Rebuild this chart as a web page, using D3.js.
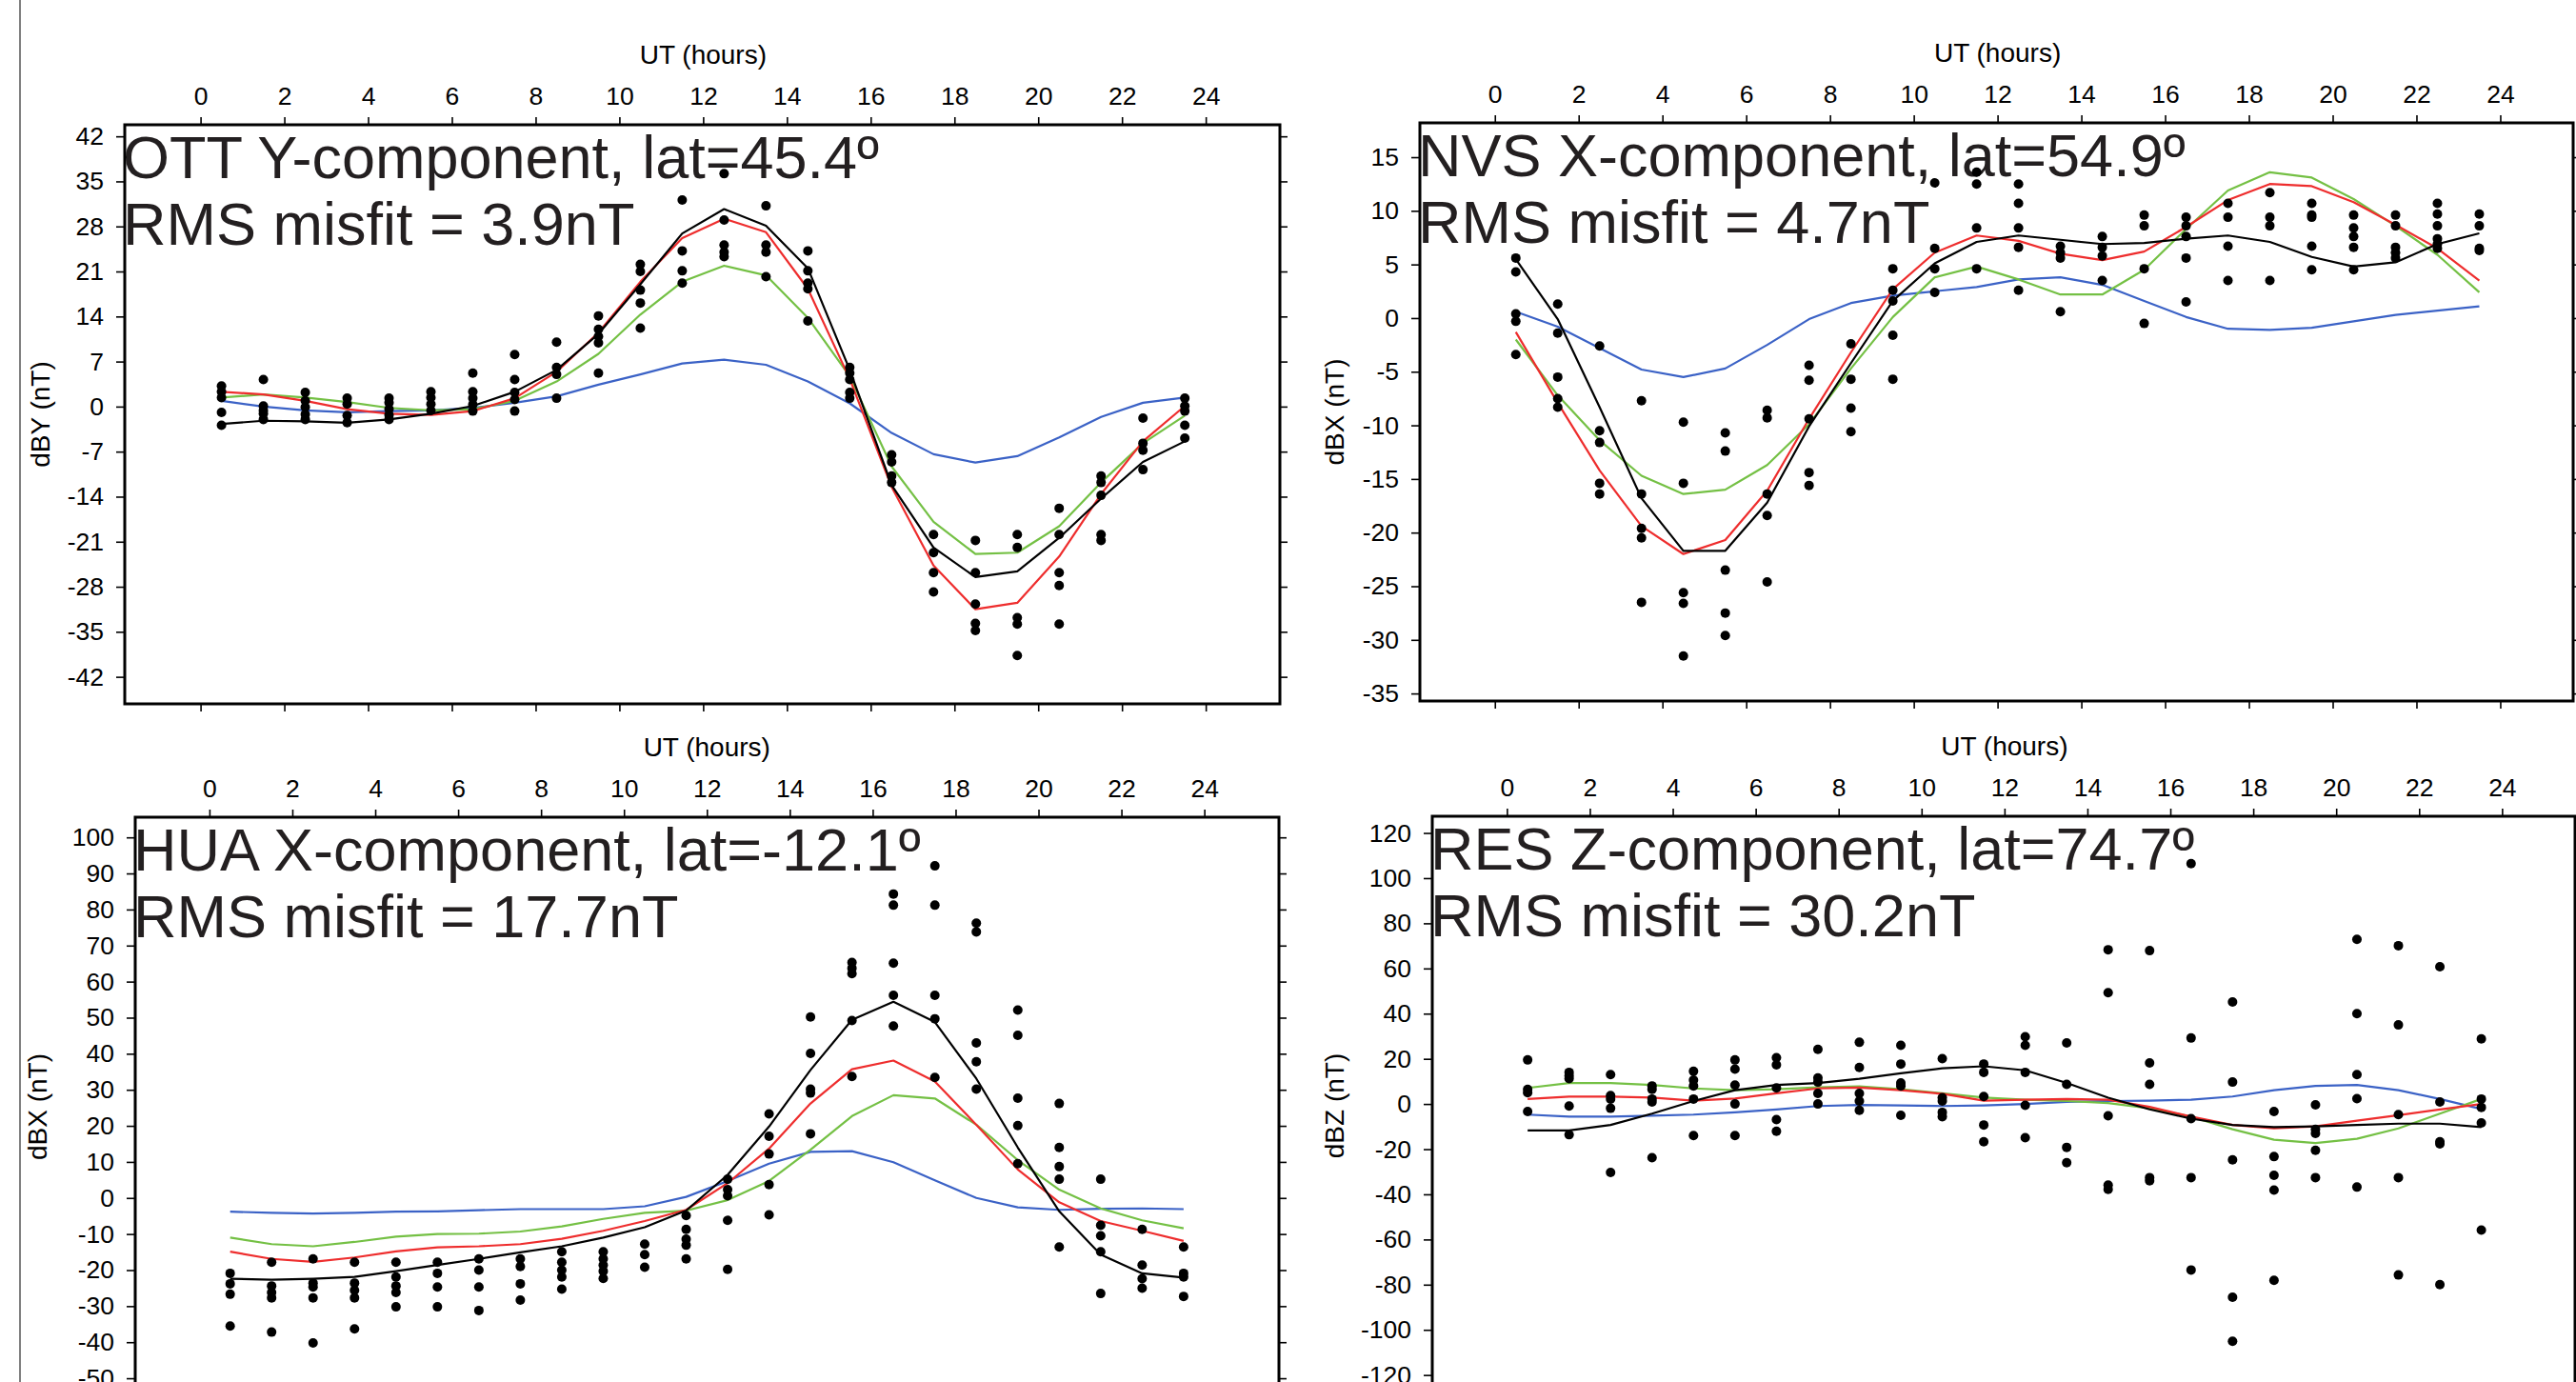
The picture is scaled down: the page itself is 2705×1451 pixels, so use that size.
<!DOCTYPE html>
<html>
<head>
<meta charset="utf-8">
<script src="https://cdnjs.cloudflare.com/ajax/libs/d3/7.8.5/d3.min.js"></script>
<style>
  body { margin: 0; background: #fff; }
  text { font-family: "Liberation Sans", Arial, sans-serif; }
</style>
</head>
<body>
<script>
// hourly bins (UT) and shared tick labels
var hours = [0.5, 1.5, 2.5, 3.5, 4.5, 5.5, 6.5, 7.5, 8.5, 9.5, 10.5, 11.5,
             12.5, 13.5, 14.5, 15.5, 16.5, 17.5, 18.5, 19.5, 20.5, 21.5, 22.5, 23.5];
var xTicks = [0, 2, 4, 6, 8, 10, 12, 14, 16, 18, 20, 22, 24];

// ---- OTT Y-component
var ottYTicks = [-42, -35, -28, -21, -14, -7, 0, 7, 14, 21, 28, 35, 42];
var ottDots = [
  [3.2, 2.3, 1.4, -0.9, -2.9], [4.2, 0.1, -0.6, -1.1, -2.0], [2.2, 0.9, -0.1, -1.2, -2.0],
  [1.3, 0.4, -1.4, -2.5], [1.3, 0.6, -0.4, -1.3, -2.0], [2.3, 1.4, 0.4, -0.6],
  [5.2, 2.3, 1.3, 0.3, -0.7], [8.1, 4.2, 2.2, 1.1, -0.7], [10.0, 6.1, 5.0, 1.3],
  [14.1, 12.0, 10.9, 9.9, 5.2], [22.1, 21.0, 18.1, 16.1, 12.2], [32.1, 24.2, 21.1, 19.2],
  [36.2, 29.0, 25.1, 24.0, 23.3], [31.2, 25.1, 24.0, 20.2], [24.2, 21.1, 19.2, 18.3, 13.3],
  [6.1, 5.2, 4.2, 2.2, 1.3], [-7.5, -8.6, -10.8, -11.8], [-19.9, -22.7, -25.8, -28.8],
  [-20.8, -25.8, -30.7, -33.7, -34.8], [-19.9, -21.9, -32.8, -33.8, -38.7],
  [-15.8, -19.9, -25.8, -27.8, -33.8], [-10.8, -11.8, -13.8, -19.9, -20.8],
  [-1.8, -5.7, -6.8, -9.8], [1.3, 0.1, -0.7, -2.9, -4.9]
];
var ottBlack = [-2.7, -2.2, -2.3, -2.5, -2.0, -1.1, 0.1, 2.3, 5.7, 11.3, 19.0, 26.9,
                30.7, 28.1, 21.5, 5.7, -12.2, -21.9, -26.5, -25.6, -20.4, -14.3, -8.6, -5.4];
var ottRed = [2.3, 1.9, 0.9, -0.4, -1.1, -1.3, -0.7, 1.3, 5.4, 11.5, 19.4, 26.2,
              29.2, 27.1, 18.3, 4.3, -12.5, -24.7, -31.5, -30.5, -23.3, -13.6, -5.4, 0.1];
var ottGreen = [1.4, 1.9, 1.4, 0.7, -0.2, -0.6, -0.4, 0.9, 3.9, 8.2, 14.3, 19.4,
                21.9, 20.4, 13.8, 4.7, -9.3, -17.9, -22.9, -22.7, -18.6, -11.8, -5.7, -1.4];
var ottBlue = [0.9, 0, -0.6, -0.9, -0.7, -0.6, -0.2, 0.6, 1.6, 3.4, 5.0, 6.7,
               7.3, 6.5, 3.9, 0.5, -4.1, -7.4, -8.7, -7.7, -4.8, -1.6, 0.6, 1.4];

// ---- NVS X-component
var nvsYTicks = [-35, -30, -25, -20, -15, -10, -5, 0, 5, 10, 15];
var nvsDots = [
  [5.6, 4.3, 0.4, -0.3, -3.4], [1.3, -1.4, -5.5, -7.5, -8.3], [-2.6, -10.5, -11.6, -15.4, -16.4],
  [-7.7, -16.4, -19.6, -20.5, -26.5], [-9.7, -15.4, -25.6, -26.6, -31.5],
  [-10.7, -12.4, -23.5, -27.5, -29.6], [-8.6, -9.3, -16.4, -18.4, -24.6],
  [-4.4, -5.8, -9.4, -14.4, -15.6], [-2.4, -5.7, -8.4, -10.6], [4.6, 2.6, 1.6, -1.6, -5.7],
  [12.6, 6.5, 4.6, 2.4], [13.6, 12.5, 8.4, 4.6], [12.5, 10.7, 8.4, 6.6, 2.6],
  [6.7, 6.1, 5.6, 0.6], [7.6, 6.6, 5.8, 3.5], [9.6, 8.6, 4.6, -0.5],
  [9.4, 8.6, 7.6, 5.6, 1.5], [10.7, 9.4, 6.7, 3.5], [11.7, 9.4, 8.6, 3.5],
  [10.7, 9.6, 9.4, 6.7, 4.5], [9.6, 8.4, 7.6, 6.6, 4.5], [9.6, 8.6, 6.6, 6.1, 5.6],
  [10.7, 9.7, 8.6, 7.4, 6.9, 6.5], [9.7, 8.6, 6.5, 6.3]
];
var nvsBlack = [5.5, -0.1, -8.3, -16.8, -21.7, -21.7, -17.2, -10.1, -4.2, 1.6, 5.1, 7.1,
                7.7, 7.3, 6.9, 7.0, 7.4, 7.7, 7.1, 5.7, 4.8, 5.2, 6.9, 7.9];
var nvsRed = [-1.3, -7.9, -14.2, -19.4, -22.0, -20.7, -16.1, -9.4, -3.2, 2.7, 6.1, 7.7,
              7.2, 6.0, 5.4, 6.2, 8.5, 11.0, 12.5, 12.3, 10.8, 8.7, 6.5, 3.5];
var nvsGreen = [-2.0, -7.2, -11.4, -14.7, -16.4, -16.0, -13.7, -9.9, -4.7, 0.1, 3.8, 4.8,
                3.6, 2.2, 2.2, 4.5, 8.3, 11.9, 13.6, 13.1, 11.1, 8.6, 5.9, 2.4];
var nvsBlue = [0.6, -0.8, -2.8, -4.8, -5.5, -4.7, -2.5, -0.1, 1.4, 2.1, 2.5, 2.9,
               3.6, 3.8, 3.1, 1.6, 0.1, -1.0, -1.1, -0.9, -0.3, 0.3, 0.7, 1.1];

// ---- HUA X-component
var huaYTicks = [-50, -40, -30, -20, -10, 0, 10, 20, 30, 40, 50, 60, 70, 80, 90, 100];
var huaDots = [
  [-20.9, -23.8, -26.7, -35.5], [-17.8, -24.4, -26.2, -27.7, -37.2],
  [-16.9, -23.6, -24.7, -27.7, -40.2], [-17.8, -23.6, -25.6, -27.7, -36.3],
  [-17.8, -21.9, -24.4, -26.2, -30.2], [-17.8, -20.9, -24.7, -30.2],
  [-16.9, -20.0, -24.7, -31.2], [-16.9, -19.0, -23.8, -28.3],
  [-14.9, -17.8, -20.0, -21.9, -25.3], [-14.9, -16.9, -18.6, -20.3, -22.3],
  [-12.8, -15.7, -19.2], [-4.9, -8.7, -11.4, -13.1, -16.9], [5.2, 2.3, 0.6, -6.2, -19.8],
  [23.3, 17.1, 12.2, 3.7, -4.7], [50.2, 40.1, 30.2, 29.1, 17.8], [65.3, 63.7, 62.2, 49.2, 33.7],
  [84.3, 81.2, 65.1, 56.2, 47.7], [92.1, 81.2, 56.2, 49.7, 33.4], [76.2, 73.8, 43.0, 37.8, 30.2],
  [52.1, 45.1, 27.7, 20.1, 9.5], [26.2, 14.0, 8.7, 5.2, -13.6], [5.2, -7.6, -10.5, -14.9, -26.5],
  [-8.7, -18.6, -22.4, -25.0], [-13.6, -20.9, -21.9, -27.3]
];
var huaBlack = [-22.4, -22.7, -22.4, -21.9, -20.3, -18.6, -16.9, -15.1, -13.4, -11.0, -8.1, -3.5,
                6.4, 19.8, 35.5, 49.4, 54.4, 48.8, 33.1, 14.0, -3.7, -15.7, -20.9, -22.1];
var huaRed = [-14.9, -16.9, -17.7, -16.5, -14.8, -13.7, -13.4, -12.8, -11.3, -9.1, -6.4, -3.3,
              4.1, 13.7, 26.2, 35.7, 38.1, 32.3, 20.3, 7.9, -1.2, -6.4, -9.1, -11.9];
var huaGreen = [-11.0, -12.8, -13.4, -12.2, -10.7, -10.0, -9.9, -9.3, -7.9, -5.8, -4.1, -3.5,
                -0.6, 4.7, 13.4, 22.7, 28.5, 27.6, 20.3, 10.5, 2.3, -2.9, -6.2, -8.4];
var huaBlue = [-3.8, -4.1, -4.3, -4.1, -3.8, -3.7, -3.4, -3.1, -3.1, -3.1, -2.3, 0.3,
               4.7, 9.5, 12.8, 13.0, 9.9, 4.9, 0, -2.6, -3.3, -3.0, -2.9, -3.1];

// ---- RES Z-component
var resYTicks = [-120, -100, -80, -60, -40, -20, 0, 20, 40, 60, 80, 100, 120];
var resDots = [
  [19.5, 6.5, 5.0, -3.3], [14.0, 12.5, 11.2, -0.9, -13.6], [13.0, 3.7, 2.2, -1.9, -30.3],
  [8.0, 6.5, 2.2, 0.9, -23.8], [14.5, 10.6, 8.0, 2.2, -14.0], [19.5, 15.4, 8.4, 0, -14.0],
  [20.5, 17.3, 7.1, -6.9, -12.1], [24.2, 11.5, 9.7, 4.7, 0], [27.3, 16.2, 4.7, 1.3, -2.8],
  [26.0, 17.7, 9.3, 8.0, -5.0], [20.1, 2.8, 1.3, -3.7, -5.6], [17.7, 14.0, 3.3, -9.3, -16.7],
  [29.8, 26.0, 14.0, -0.6, -14.9], [27.0, 8.7, -19.2, -26.0], [68.3, 49.3, -5.2, -35.9, -37.8],
  [67.9, 18.2, 8.7, -32.6, -34.0], [106.4, 29.2, -6.5, -32.6, -73.5],
  [45.2, 9.7, -24.7, -85.6, -105.1], [-3.3, -23.3, -31.6, -38.1, -78.1],
  [-0.4, -11.2, -13.0, -20.5, -32.6], [72.9, 40.0, 13.0, 2.4, -36.8],
  [70.1, 35.0, -4.7, -32.6, -75.7], [60.8, 0.9, -16.7, -17.7, -80.0], [28.8, 2.2, -1.5, -8.4, -55.8]
];
var resBlack = [-11.7, -11.7, -9.3, -4.3, 1.3, 6.1, 8.4, 9.3, 11.2, 13.6, 15.8, 16.7,
                14.9, 9.3, 2.8, -2.4, -6.5, -9.3, -10.2, -9.9, -9.3, -8.7, -8.7, -10.2];
var resRed = [2.2, 3.3, 3.3, 2.8, 1.5, 2.4, 4.7, 6.9, 7.3, 6.1, 4.5, 1.5,
              1.9, 2.2, 1.9, -1.3, -5.6, -9.3, -10.8, -9.9, -7.4, -5.0, -2.4, 0];
var resGreen = [7.1, 9.3, 9.3, 8.4, 6.9, 6.1, 6.5, 7.4, 7.8, 6.5, 4.7, 2.8,
                1.9, 1.3, 0.4, -1.9, -5.6, -11.2, -15.8, -17.3, -15.4, -10.8, -4.3, 2.2];
var resBlue = [-4.7, -5.6, -5.6, -5.2, -4.7, -3.7, -2.4, -0.9, -0.4, -0.6, -0.9, -0.6,
               0, 0.9, 1.3, 1.5, 1.9, 3.3, 6.1, 8.0, 8.4, 6.1, 2.2, -2.2];

var W = 2705, H = 1451;

var svg = d3.select("body").append("svg")
    .attr("width", W)
    .attr("height", H);

// thin page-edge line on the left
svg.append("line")
    .attr("x1", 21).attr("x2", 21)
    .attr("y1", 0).attr("y2", H)
    .attr("stroke", "#555")
    .attr("stroke-width", 1.5);

var panels = [
  {left: 131, top: 131, right: 1344, bottom: 739, xdom: [-1.81, 25.77], ydom: [-46.2, 43.8],
   yticks: ottYTicks, ylabel: "dBY (nT)", labOff: 79,
   title: ["OTT Y-component, lat=45.4\u00ba", "RMS misfit = 3.9nT"],
   dots: ottDots, black: ottBlack, red: ottRed, green: ottGreen, blue: ottBlue},
  {left: 1491, top: 129, right: 2702, bottom: 736, xdom: [-1.79, 25.74], ydom: [-35.7, 18.2],
   yticks: nvsYTicks, ylabel: "dBX (nT)", labOff: 80,
   title: ["NVS X-component, lat=54.9\u00ba", "RMS misfit = 4.7nT"],
   dots: nvsDots, black: nvsBlack, red: nvsRed, green: nvsGreen, blue: nvsBlue},
  {left: 142, top: 858, right: 1343, bottom: 1466, xdom: [-1.79, 25.8], ydom: [-55, 105.6],
   yticks: huaYTicks, ylabel: "dBX (nT)", labOff: 93,
   title: ["HUA X-component, lat=-12.1\u00ba", "RMS misfit = 17.7nT"],
   dots: huaDots, black: huaBlack, red: huaRed, green: huaGreen, blue: huaBlue},
  {left: 1504, top: 857, right: 2704, bottom: 1465, xdom: [-1.8, 25.76], ydom: [-129, 127.4],
   yticks: resYTicks, ylabel: "dBZ (nT)", labOff: 93,
   title: ["RES Z-component, lat=74.7\u00ba", "RMS misfit = 30.2nT"],
   dots: resDots, black: resBlack, red: resRed, green: resGreen, blue: resBlue}
];

var lineColors = {blue: "#3b62c6", green: "#74c044", red: "#ee2d2d", black: "#000"};
var plain = function(d) { return String(d); };   // keep ASCII hyphen for negatives

panels.forEach(function(p) {
    var w = p.right - p.left,
        h = p.bottom - p.top;

    var g = svg.append("g")
        .attr("transform", "translate(" + p.left + "," + p.top + ")");

    var x = d3.scaleLinear().domain(p.xdom).range([0, w]);
    var y = d3.scaleLinear().domain(p.ydom).range([h, 0]);

    // top axis with labels, bottom ticks only
    var top = g.append("g")
        .call(d3.axisTop(x).tickValues(xTicks).tickSize(8).tickPadding(13).tickFormat(plain));
    var bot = g.append("g")
        .attr("transform", "translate(0," + h + ")")
        .call(d3.axisBottom(x).tickValues(xTicks).tickSize(8).tickFormat(""));
    var lft = g.append("g")
        .call(d3.axisLeft(y).tickValues(p.yticks).tickSize(9).tickPadding(13).tickFormat(plain));
    var rgt = g.append("g")
        .attr("transform", "translate(" + w + ",0)")
        .call(d3.axisRight(y).tickValues(p.yticks).tickSize(8).tickFormat(""));

    [top, bot, lft, rgt].forEach(function(a) {
        a.select(".domain").remove();
        a.selectAll("line").attr("stroke", "#000").attr("stroke-width", 1.6);
        a.selectAll("text")
            .attr("fill", "#000")
            .style("font-size", "26.5px")
            .style("font-family", "'Liberation Sans', Arial, sans-serif");
    });

    // axis titles
    g.append("text")
        .attr("x", x(12))
        .attr("y", -64)
        .attr("text-anchor", "middle")
        .style("font-size", "28px")
        .text("UT (hours)");

    g.append("text")
        .attr("transform", "translate(" + (-p.labOff) + "," + (h / 2) + ") rotate(-90)")
        .attr("text-anchor", "middle")
        .style("font-size", "28px")
        .text(p.ylabel);

    // big station label
    g.selectAll(".ttl")
        .data(p.title)
        .enter()
        .append("text")
            .attr("class", "ttl")
            .attr("x", -2)
            .attr("y", function(d, i) { return 56 + i * 70; })
            .attr("fill", "#231f20")
            .style("font-size", "63px")
            .text(function(d) { return d; });

    // model curves
    var line = d3.line()
        .x(function(d, i) { return x(hours[i]); })
        .y(function(d) { return y(d); });

    ["blue", "green", "red", "black"].forEach(function(k) {
        g.append("path")
            .datum(p[k])
            .attr("d", line)
            .attr("fill", "none")
            .attr("stroke", lineColors[k])
            .attr("stroke-width", 2.2)
            .attr("stroke-linejoin", "round");
    });

    // observations
    var pts = [];
    p.dots.forEach(function(vals, i) {
        vals.forEach(function(v) { pts.push({h: hours[i], v: v}); });
    });
    g.selectAll(".dot")
        .data(pts)
        .enter()
        .append("circle")
            .attr("class", "dot")
            .attr("cx", function(d) { return x(d.h); })
            .attr("cy", function(d) { return y(d.v); })
            .attr("r", 5)
            .attr("fill", "#000");

    // frame
    g.append("rect")
        .attr("width", w)
        .attr("height", h)
        .attr("fill", "none")
        .attr("stroke", "#000")
        .attr("stroke-width", 3);
});
</script>
</body>
</html>
